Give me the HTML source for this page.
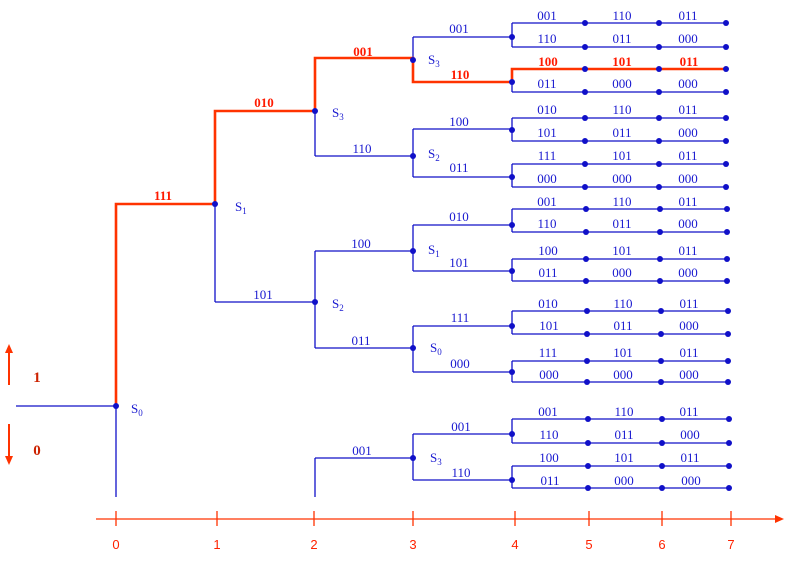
<!DOCTYPE html>
<html><head><meta charset="utf-8"><style>
html,body{margin:0;padding:0;background:#fff;}
svg{display:block;}
.b{stroke:#1010c8;stroke-width:1.3;fill:none;}
.r{stroke:#ff3300;stroke-width:2.6;fill:none;}
text{font-family:"Liberation Serif",serif;font-size:13px;fill:#1a1ad0;text-anchor:middle;}
.rt{fill:#ff1a00;font-weight:bold;}
.st{text-anchor:start;}
.ax{font-family:"Liberation Sans",sans-serif;fill:#ff2200;font-size:13px;}
circle{fill:#1010c8;}
</style></head><body>
<svg width="792" height="561" viewBox="0 0 792 561">
<!-- level 0-3 blue lines -->
<line class="b" x1="16" y1="406" x2="116" y2="406"/>
<line class="b" x1="116" y1="406" x2="116" y2="497"/>
<line class="b" x1="215" y1="204" x2="215" y2="302"/>
<line class="b" x1="215" y1="302" x2="315" y2="302"/>
<line class="b" x1="315" y1="111" x2="315" y2="156"/>
<line class="b" x1="315" y1="156" x2="413" y2="156"/>
<line class="b" x1="413" y1="37" x2="413" y2="82"/>
<line class="b" x1="413" y1="37" x2="512" y2="37"/>
<line class="b" x1="413" y1="129" x2="413" y2="177"/>
<line class="b" x1="413" y1="129" x2="512" y2="129"/>
<line class="b" x1="413" y1="177" x2="512" y2="177"/>
<line class="b" x1="315" y1="251" x2="315" y2="348"/>
<line class="b" x1="315" y1="251" x2="413" y2="251"/>
<line class="b" x1="315" y1="348" x2="413" y2="348"/>
<line class="b" x1="413" y1="225" x2="413" y2="271"/>
<line class="b" x1="413" y1="225" x2="512" y2="225"/>
<line class="b" x1="413" y1="271" x2="512" y2="271"/>
<line class="b" x1="413" y1="326" x2="413" y2="372"/>
<line class="b" x1="413" y1="326" x2="512" y2="326"/>
<line class="b" x1="413" y1="372" x2="512" y2="372"/>
<line class="b" x1="315" y1="458" x2="315" y2="497"/>
<line class="b" x1="315" y1="458" x2="413" y2="458"/>
<line class="b" x1="413" y1="434" x2="413" y2="480"/>
<line class="b" x1="413" y1="434" x2="512" y2="434"/>
<line class="b" x1="413" y1="480" x2="512" y2="480"/>
<line class="b" x1="413" y1="82" x2="512" y2="82"/>

<!-- col4 groups -->
<g class="b">
<path d="M512 23V47M512 23H726M512 47H726"/>
<path d="M512 69V92M512 92H726"/>
<path d="M512 118V141M512 118H726M512 141H726"/>
<path d="M512 164V187M512 164H726M512 187H726"/>
<path d="M512 209V232M512 209H726M512 232H726"/>
<path d="M512 259V281M512 259H726M512 281H726"/>
<path d="M512 311V334M512 311H726M512 334H726"/>
<path d="M512 361V382M512 361H726M512 382H726"/>
<path d="M512 419V443M512 419H729M512 443H729"/>
<path d="M512 466V488M512 466H729M512 488H729"/>
</g>

<!-- red path -->
<path class="r" d="M116 406V204H215V111H315V58H413V82H512V69H726"/>

<!-- dots -->
<g>
<circle cx="116" cy="406" r="3"/><circle cx="215" cy="204" r="3"/><circle cx="315" cy="111" r="3"/><circle cx="315" cy="302" r="3"/>
<circle cx="413" cy="60" r="3"/><circle cx="413" cy="156" r="3"/><circle cx="413" cy="251" r="3"/><circle cx="413" cy="348" r="3"/><circle cx="413" cy="458" r="3"/>
<circle cx="512" cy="37" r="3"/><circle cx="512" cy="82" r="3"/><circle cx="512" cy="130" r="3"/><circle cx="512" cy="177" r="3"/><circle cx="512" cy="225" r="3"/><circle cx="512" cy="271" r="3"/><circle cx="512" cy="326" r="3"/><circle cx="512" cy="372" r="3"/><circle cx="512" cy="434" r="3"/><circle cx="512" cy="480" r="3"/>
</g>
<g>
<circle cx="585" cy="23" r="3"/><circle cx="659" cy="23" r="3"/><circle cx="726" cy="23" r="3"/>
<circle cx="585" cy="47" r="3"/><circle cx="659" cy="47" r="3"/><circle cx="726" cy="47" r="3"/>
<circle cx="585" cy="69" r="3"/><circle cx="659" cy="69" r="3"/><circle cx="726" cy="69" r="3"/>
<circle cx="585" cy="92" r="3"/><circle cx="659" cy="92" r="3"/><circle cx="726" cy="92" r="3"/>
<circle cx="585" cy="118" r="3"/><circle cx="659" cy="118" r="3"/><circle cx="726" cy="118" r="3"/>
<circle cx="585" cy="141" r="3"/><circle cx="659" cy="141" r="3"/><circle cx="726" cy="141" r="3"/>
<circle cx="585" cy="164" r="3"/><circle cx="659" cy="164" r="3"/><circle cx="726" cy="164" r="3"/>
<circle cx="585" cy="187" r="3"/><circle cx="659" cy="187" r="3"/><circle cx="726" cy="187" r="3"/>
<circle cx="586" cy="209" r="3"/><circle cx="660" cy="209" r="3"/><circle cx="727" cy="209" r="3"/>
<circle cx="586" cy="232" r="3"/><circle cx="660" cy="232" r="3"/><circle cx="727" cy="232" r="3"/>
<circle cx="586" cy="259" r="3"/><circle cx="660" cy="259" r="3"/><circle cx="727" cy="259" r="3"/>
<circle cx="586" cy="281" r="3"/><circle cx="660" cy="281" r="3"/><circle cx="727" cy="281" r="3"/>
<circle cx="587" cy="311" r="3"/><circle cx="661" cy="311" r="3"/><circle cx="728" cy="311" r="3"/>
<circle cx="587" cy="334" r="3"/><circle cx="661" cy="334" r="3"/><circle cx="728" cy="334" r="3"/>
<circle cx="587" cy="361" r="3"/><circle cx="661" cy="361" r="3"/><circle cx="728" cy="361" r="3"/>
<circle cx="587" cy="382" r="3"/><circle cx="661" cy="382" r="3"/><circle cx="728" cy="382" r="3"/>
<circle cx="588" cy="419" r="3"/><circle cx="662" cy="419" r="3"/><circle cx="729" cy="419" r="3"/>
<circle cx="588" cy="443" r="3"/><circle cx="662" cy="443" r="3"/><circle cx="729" cy="443" r="3"/>
<circle cx="588" cy="466" r="3"/><circle cx="662" cy="466" r="3"/><circle cx="729" cy="466" r="3"/>
<circle cx="588" cy="488" r="3"/><circle cx="662" cy="488" r="3"/><circle cx="729" cy="488" r="3"/>
</g>

<!-- branch labels -->
<text class="rt" x="163" y="200">111</text>
<text class="rt" x="264" y="107">010</text>
<text class="rt" x="363" y="56">001</text>
<text class="rt" x="460" y="79">110</text>
<text x="263" y="299">101</text>
<text x="362" y="153">110</text>
<text x="459" y="33">001</text>
<text x="459" y="126">100</text>
<text x="459" y="172">011</text>
<text x="361" y="248">100</text>
<text x="361" y="345">011</text>
<text x="459" y="221">010</text>
<text x="459" y="267">101</text>
<text x="460" y="322">111</text>
<text x="460" y="368">000</text>
<text x="362" y="455">001</text>
<text x="461" y="431">001</text>
<text x="461" y="477">110</text>

<!-- state labels -->
<text class="st" x="131" y="413">S<tspan font-size="9" dy="3">0</tspan></text>
<text class="st" x="235" y="211">S<tspan font-size="9" dy="3">1</tspan></text>
<text class="st" x="332" y="117">S<tspan font-size="9" dy="3">3</tspan></text>
<text class="st" x="332" y="308">S<tspan font-size="9" dy="3">2</tspan></text>
<text class="st" x="428" y="64">S<tspan font-size="9" dy="3">3</tspan></text>
<text class="st" x="428" y="158">S<tspan font-size="9" dy="3">2</tspan></text>
<text class="st" x="428" y="254">S<tspan font-size="9" dy="3">1</tspan></text>
<text class="st" x="430" y="352">S<tspan font-size="9" dy="3">0</tspan></text>
<text class="st" x="430" y="462">S<tspan font-size="9" dy="3">3</tspan></text>

<!-- output labels columns 4-7 -->
<g>
<text x="547" y="20">001</text><text x="622" y="20">110</text><text x="688" y="20">011</text>
<text x="547" y="43">110</text><text x="622" y="43">011</text><text x="688" y="43">000</text>
<text class="rt" x="548" y="66">100</text><text class="rt" x="622" y="66">101</text><text class="rt" x="689" y="66">011</text>
<text x="547" y="88">011</text><text x="622" y="88">000</text><text x="688" y="88">000</text>
<text x="547" y="114">010</text><text x="622" y="114">110</text><text x="688" y="114">011</text>
<text x="547" y="137">101</text><text x="622" y="137">011</text><text x="688" y="137">000</text>
<text x="547" y="160">111</text><text x="622" y="160">101</text><text x="688" y="160">011</text>
<text x="547" y="183">000</text><text x="622" y="183">000</text><text x="688" y="183">000</text>
<text x="547" y="206">001</text><text x="622" y="206">110</text><text x="688" y="206">011</text>
<text x="547" y="228">110</text><text x="622" y="228">011</text><text x="688" y="228">000</text>
<text x="548" y="255">100</text><text x="622" y="255">101</text><text x="688" y="255">011</text>
<text x="548" y="277">011</text><text x="622" y="277">000</text><text x="688" y="277">000</text>
<text x="548" y="308">010</text><text x="623" y="308">110</text><text x="689" y="308">011</text>
<text x="549" y="330">101</text><text x="623" y="330">011</text><text x="689" y="330">000</text>
<text x="548" y="357">111</text><text x="623" y="357">101</text><text x="689" y="357">011</text>
<text x="549" y="379">000</text><text x="623" y="379">000</text><text x="689" y="379">000</text>
<text x="548" y="416">001</text><text x="624" y="416">110</text><text x="689" y="416">011</text>
<text x="549" y="439">110</text><text x="624" y="439">011</text><text x="690" y="439">000</text>
<text x="549" y="462">100</text><text x="624" y="462">101</text><text x="690" y="462">011</text>
<text x="550" y="485">011</text><text x="624" y="485">000</text><text x="691" y="485">000</text>
</g>

<!-- left arrows -->
<line x1="9" y1="385" x2="9" y2="352" stroke="#ff3300" stroke-width="2"/>
<polygon points="9,344 5,353 13,353" fill="#ff3300"/>
<line x1="9" y1="424" x2="9" y2="456" stroke="#ff3300" stroke-width="2"/>
<polygon points="9,465 5,456 13,456" fill="#ff3300"/>
<text x="37" y="382" style="fill:#cc2200;font-weight:bold;font-size:15px">1</text>
<text x="37" y="455" style="fill:#cc2200;font-weight:bold;font-size:15px">0</text>

<!-- axis -->
<line x1="96" y1="519" x2="776" y2="519" stroke="#ff3300" stroke-width="1.3"/>
<polygon points="784,519 775,515 775,523" fill="#ff3300"/>
<g stroke="#ff3300" stroke-width="1.3">
<line x1="116" y1="511" x2="116" y2="526"/><line x1="217" y1="511" x2="217" y2="526"/><line x1="314" y1="511" x2="314" y2="526"/><line x1="413" y1="511" x2="413" y2="526"/><line x1="515" y1="511" x2="515" y2="526"/><line x1="589" y1="511" x2="589" y2="526"/><line x1="662" y1="511" x2="662" y2="526"/><line x1="731" y1="511" x2="731" y2="526"/>
</g>
<g class="ax">
<text class="ax" x="116" y="549">0</text><text class="ax" x="217" y="549">1</text><text class="ax" x="314" y="549">2</text><text class="ax" x="413" y="549">3</text><text class="ax" x="515" y="549">4</text><text class="ax" x="589" y="549">5</text><text class="ax" x="662" y="549">6</text><text class="ax" x="731" y="549">7</text>
</g>
</svg>
</body></html>
